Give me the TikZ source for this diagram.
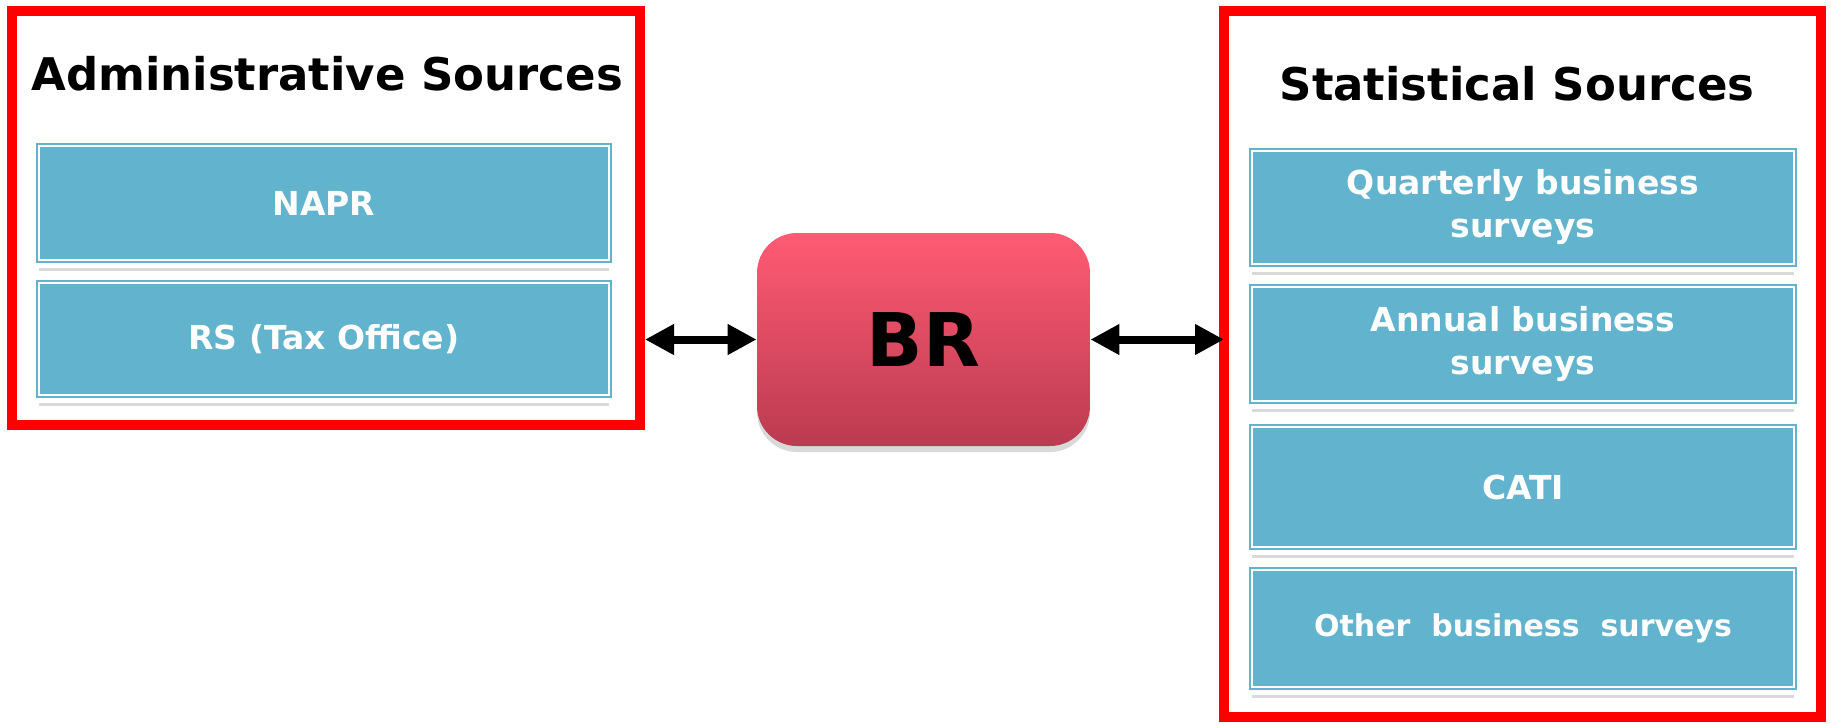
\documentclass[tikz,border=0pt]{standalone}
\usepackage{fontspec}
\setmainfont{DejaVu Sans}
\usetikzlibrary{arrows.meta,shadows}
\definecolor{srcteal}{HTML}{62B3CD}
\definecolor{brtop}{HTML}{FF5B74}
\definecolor{brbot}{HTML}{BB3B50}
\definecolor{framered}{HTML}{FF0000}

\begin{document}
\begin{tikzpicture}[x=0.5pt, y=-0.5pt,
	every node/.style={font=\bfseries},
	srcframe/.style={draw=framered, line width=5pt},
	srctitle/.style={font=\bfseries\fontsize{22.5}{27}\selectfont},
	srcbox/.style={drop shadow={shadow xshift=0pt, shadow yshift=-5.5pt, opacity=0.3},
		preaction={draw=white, line width=7.75pt, line join=round},
		fill=srcteal, draw=srcteal, double=white, line width=1pt, double distance=0.75pt,
		text=white, align=center, inner sep=0pt,
		font=\bfseries\fontsize{16.5}{21.5}\selectfont},
	brbox/.style={rounded corners=20pt, top color=brtop, bottom color=brbot,
		drop shadow={shadow xshift=0pt, shadow yshift=-3pt, opacity=0.3},
		minimum width=166.5pt, minimum height=106.5pt,
		font=\bfseries\fontsize{37}{44}\selectfont},
	link/.style={{Triangle[length=14.5pt,width=14.5pt]}-{Triangle[length=14.5pt,width=14.5pt]}, line width=4pt}]
	
	% \draw[gray, very thin] (0,0) grid (1831,723);
	\useasboundingbox (0,0) rectangle (1831,723);
	
	% administrative sources
	\draw[srcframe] (12,11) rectangle (640,425);
	\node[srctitle] (admtitle) at (327,74) {Administrative Sources};
	\node[srcbox, minimum width=285pt, minimum height=57pt] (napr) at (324,203) {NAPR};
	\node[srcbox, minimum width=285pt, minimum height=56pt] (rs) at (324,339) {RS (Tax Office)};
	\coordinate (admE) at (645,339.5);
	
	% business register
	\node[brbox] (br) at (923.5,339.5) {BR};
	
	% statistical sources
	\draw[srcframe] (1224,11) rectangle (1821,717);
	\node[srctitle] (stattitle) at (1517,84) {Statistical Sources};
	\node[srcbox, minimum width=271pt, minimum height=56.5pt] (qbs) at (1523,207.5) {Quarterly business\\surveys};
	\node[srcbox, minimum width=271pt, minimum height=57pt] (abs) at (1523,344) {Annual business\\surveys};
	\node[srcbox, minimum width=271pt, minimum height=60pt] (cati) at (1523,487) {CATI};
	\node[srcbox, minimum width=271pt, minimum height=58.5pt, font=\bfseries\fontsize{15}{18}\selectfont] (obs) at (1523,628.5) {Other\ \ business\ \ surveys};
	\coordinate (statW) at (1224,339.5);
	
	\draw[link] (admE) -- (br.west);
	\draw[link] (br.east) -- (statW);
	
\end{tikzpicture}
\end{document}
